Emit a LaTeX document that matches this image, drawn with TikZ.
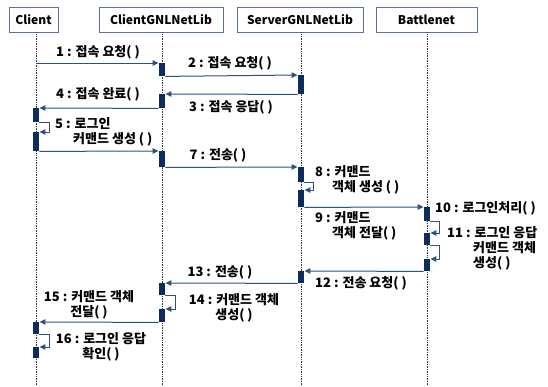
\documentclass[tikz,border=0pt]{standalone}
\usepackage{fontspec}
\setmainfont{Noto Sans CJK KR}
\usetikzlibrary{arrows.meta}
\definecolor{boxc}{HTML}{5B7497}
\definecolor{actc}{HTML}{0D2C5E}
\definecolor{msgc}{HTML}{2F5080}
\begin{document}
\begin{tikzpicture}[x=1pt,y=-1pt,
  font=\bfseries\fontsize{13}{15}\selectfont,
  hdr/.style={draw=boxc, line width=0.8pt, minimum height=25pt, inner sep=0pt, minimum width=#1, font=\bfseries\fontsize{12}{14}\selectfont},
  life/.style={densely dotted, line width=0.7pt, black!80},
  act/.style={fill=actc, draw=none, minimum width=6.5pt, minimum height=#1, inner sep=0pt, anchor=north},
  msg/.style={draw=msgc, line width=1pt, -{Triangle[length=6pt,width=5.5pt]}},
  lbl/.style={inner sep=0pt, align=center},
  lblw/.style={inner sep=0pt, anchor=west, align=left}]
\useasboundingbox (0,0) rectangle (548,386);
% headers
\node[hdr=49] (hC) at (33.5,19.5) {Client};
\node[hdr=124] (hCL) at (161,19.5) {ClientGNLNetLib};
\node[hdr=126] (hSL) at (300,19.5) {ServerGNLNetLib};
\node[hdr=101] (hB) at (426.5,19.5) {Battlenet};
% lifeline ends
\coordinate (eC) at (36,386);
\coordinate (eCL) at (162,386);
\coordinate (eSL) at (301,386);
\coordinate (eB) at (427,386);
\draw[life] (hC.south -| eC) -- (eC);
\draw[life] (hCL.south -| eCL) -- (eCL);
\draw[life] (hSL.south -| eSL) -- (eSL);
\draw[life] (hB.south -| eB) -- (eB);
% activations
\node[act=13] (aCL1) at (162,63) {};
\node[act=19] (aSL1) at (301,75) {};
\node[act=14] (aCL2) at (162,94) {};
\node[act=14] (aC1) at (36,108) {};
\node[act=19] (aC2) at (36,132) {};
\node[act=16] (aCL3) at (162,151) {};
\node[act=15] (aSL2) at (301,167) {};
\node[act=17] (aSL3) at (301,190) {};
\node[act=14] (aB1) at (427,207) {};
\node[act=12] (aB2) at (427,233) {};
\node[act=12] (aB3) at (427,259) {};
\node[act=12] (aSL4) at (301,271) {};
\node[act=12] (aCL4) at (162,283) {};
\node[act=13] (aCL5) at (162,309) {};
\node[act=12] (aC3) at (36,322) {};
\node[act=11] (aC4) at (36,347) {};
% messages
\coordinate (s1) at (36,63);
\draw[msg] (s1) -- (aCL1.north west);
\draw[msg] (aCL1.south east) -- (aSL1.north west);
\draw[msg] (aSL1.south west) -- (aCL2.north east);
\draw[msg] (aCL2.south west) -- (aC1.north east);
\draw[msg] (aC1.south east) -- ++(10,0) |- (aC2.north east);
\draw[msg] (aC2.south east) -- (aCL3.north west);
\draw[msg] (aCL3.south east) -- (aSL2.north west);
\draw[msg] (aSL2.south east) -- ++(9,0) |- (aSL3.north east);
\draw[msg] (aSL3.south east) -- (aB1.north west);
\draw[msg] (aB1.south east) -- ++(9,0) |- (aB2.north east);
\draw[msg] (aB2.south east) -- ++(9,0) |- (aB3.north east);
\draw[msg] (aB3.south west) -- (aSL4.north east);
\draw[msg] (aSL4.south west) -- (aCL4.north east);
\draw[msg] (aCL4.south east) -- ++(10,0) |- (aCL5.north east);
\draw[msg] (aCL5.south west) -- (aC3.north east);
\draw[msg] (aC3.south east) -- ++(10,0) |- (aC4.north east);
% labels
\node[lbl] (t1) at (98,52) {1 : 접속 요청( )};
\node[lbl] (t2) at (230,63) {2 : 접속 요청( )};
\node[lbl] (t3) at (231,107) {3 : 접속 응답( )};
\node[lbl] (t4) at (98,94) {4 : 접속 완료( )};
\node[lblw] (t5) at (55,132) {5 : 로그인\\\hspace*{18pt}커맨드 생성 ( )};
\node[lbl] (t7) at (218,155) {7 : 전송( )};
\node[lblw] (t8) at (315,180) {8 : 커맨드\\\hspace*{17pt}객체 생성 ( )};
\node[lblw] (t9) at (315,225.5) {9 : 커맨드\\\hspace*{17pt}객체 전달( )};
\node[lblw] (t10) at (435,208) {10 : 로그인처리( )};
\node[lblw] (t11) at (447,248) {11 : 로그인 응답\\\hspace*{26pt}커맨드 객체\\\hspace*{26pt}생성( )};
\node[lbl] (t12) at (361,283) {12 : 전송 요청( )};
\node[lbl] (t13) at (220,272) {13 : 전송( )};
\node[lbl] (t14) at (234,307.5) {14 : 커맨드 객체\\생성( )};
\node[lbl] (t15) at (89,304.5) {15 : 커맨드 객체\\전달( )};
\node[lbl] (t16) at (101,346.5) {16 : 로그인 응답\\확인( )};
\end{tikzpicture}
\end{document}
